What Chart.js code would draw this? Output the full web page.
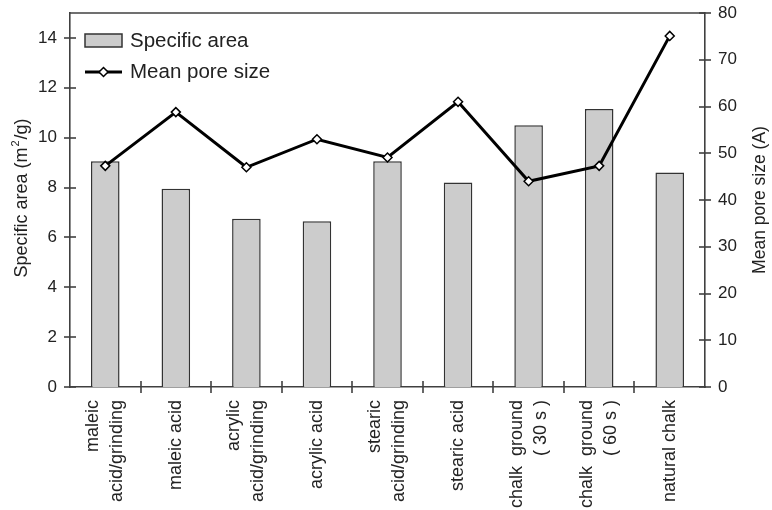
<!DOCTYPE html>
<html>
<head>
<meta charset="utf-8">
<script src="https://cdn.jsdelivr.net/npm/chart.js@4/dist/chart.umd.min.js"></script>
<style>
  html, body { margin: 0; padding: 0; background: #fff; overflow: hidden; }
  #wrap { width: 772px; height: 510px; position: relative; }
</style>
</head>
<body>
<div id="wrap"><canvas id="chart" width="772" height="510"></canvas></div>
<script>
// Sample names (each entry is the list of label lines)
const categories = [
  ["maleic", "acid/grinding"],
  ["maleic acid"],
  ["acrylic", "acid/grinding"],
  ["acrylic acid"],
  ["stearic", "acid/grinding"],
  ["stearic acid"],
  ["chalk  ground", "( 30 s )"],
  ["chalk  ground", "( 60 s )"],
  ["natural chalk"]
];

// Specific surface area, m²/g
const specificArea = [9.05, 7.95, 6.75, 6.65, 9.05, 8.2, 10.5, 11.15, 8.6];

// Mean pore size, Å
const meanPoreSize = [47.3, 58.8, 47.0, 53.0, 49.1, 61.0, 44.0, 47.3, 75.1];

// Axis tick values
const areaTicks = [0, 2, 4, 6, 8, 10, 12, 14];
const poreTicks = [0, 10, 20, 30, 40, 50, 60, 70, 80];

const FONT = "'Liberation Sans', Arial, Helvetica, sans-serif";
const AXIS_COLOR = '#404040';
const TEXT_COLOR = '#222';

// Tick marks that cross the axes, frame top line, axis titles, legend and category labels
const decorations = {
  id: 'decorations',
  afterDraw(chart) {
    const ctx = chart.ctx;
    const area = chart.chartArea;
    const x = chart.scales.x;
    const yL = chart.scales.y;
    const yR = chart.scales.y2;

    ctx.save();
    ctx.strokeStyle = AXIS_COLOR;
    ctx.lineWidth = 1.6;

    // top frame line
    ctx.beginPath();
    ctx.moveTo(area.left, area.top);
    ctx.lineTo(area.right, area.top);
    ctx.stroke();

    // left axis ticks
    yL.ticks.forEach(t => {
      const py = Math.round(yL.getPixelForValue(t.value));
      ctx.beginPath();
      ctx.moveTo(area.left - 6, py);
      ctx.lineTo(area.left + 6, py);
      ctx.stroke();
    });
    // right axis ticks
    yR.ticks.forEach(t => {
      const py = Math.round(yR.getPixelForValue(t.value));
      ctx.beginPath();
      ctx.moveTo(area.right - 6, py);
      ctx.lineTo(area.right + 6, py);
      ctx.stroke();
    });
    // category boundary ticks
    for (let i = 1; i < categories.length; i++) {
      const px = Math.round(x.getPixelForValue(i - 0.5));
      ctx.beginPath();
      ctx.moveTo(px, area.bottom - 6);
      ctx.lineTo(px, area.bottom + 6);
      ctx.stroke();
    }

    // category labels, rotated, reading upward
    ctx.fillStyle = TEXT_COLOR;
    ctx.font = '18px ' + FONT;
    ctx.textAlign = 'right';
    ctx.textBaseline = 'middle';
    const lineGap = 24;
    categories.forEach((lines, i) => {
      const cx = x.getPixelForTick(i);
      lines.forEach((line, j) => {
        const off = (j - (lines.length - 1) / 2) * lineGap;
        ctx.save();
        ctx.translate(cx + off, area.bottom + 13);
        ctx.rotate(-Math.PI / 2);
        ctx.fillText(line, 0, 0);
        ctx.restore();
      });
    });

    // axis titles
    const midY = (area.top + area.bottom) / 2;

    // left title with a raised "2" in the unit
    const mainFont = '18px ' + FONT;
    const supFont = '11px ' + FONT;
    const partA = 'Specific area (m';
    const partSup = '2';
    const partB = '/g)';
    ctx.font = mainFont;
    const wA = ctx.measureText(partA).width;
    const wB = ctx.measureText(partB).width;
    ctx.font = supFont;
    const wS = ctx.measureText(partSup).width + 2;
    const total = wA + wS + wB;
    ctx.save();
    ctx.translate(22, midY - 2);
    ctx.rotate(-Math.PI / 2);
    ctx.textAlign = 'left';
    ctx.textBaseline = 'middle';
    let tx = -total / 2;
    ctx.font = mainFont;
    ctx.fillText(partA, tx, 0);
    tx += wA + 1;
    ctx.font = supFont;
    ctx.fillText(partSup, tx, -6);
    tx += wS - 1;
    ctx.font = mainFont;
    ctx.fillText(partB, tx, 0);
    ctx.restore();

    ctx.textAlign = 'center';
    ctx.font = '17.5px ' + FONT;
    ctx.save();
    ctx.translate(760, midY);
    ctx.rotate(-Math.PI / 2);
    ctx.fillText('Mean pore size (A)', 0, 0);
    ctx.restore();

    // legend inside the plot
    const barDs = chart.data.datasets[0];
    const lineDs = chart.data.datasets[1];
    const lx = area.left + 15;
    ctx.fillStyle = barDs.backgroundColor;
    ctx.strokeStyle = barDs.borderColor;
    ctx.lineWidth = 1.5;
    ctx.fillRect(lx, 34, 37, 13);
    ctx.strokeRect(lx, 34, 37, 13);

    ctx.strokeStyle = lineDs.borderColor;
    ctx.lineWidth = lineDs.borderWidth;
    ctx.beginPath();
    ctx.moveTo(lx, 72);
    ctx.lineTo(lx + 37, 72);
    ctx.stroke();
    const r = lineDs.pointRadius;
    const dcx = lx + 18.5;
    ctx.beginPath();
    ctx.moveTo(dcx, 72 - r);
    ctx.lineTo(dcx + r, 72);
    ctx.lineTo(dcx, 72 + r);
    ctx.lineTo(dcx - r, 72);
    ctx.closePath();
    ctx.fillStyle = lineDs.pointBackgroundColor;
    ctx.fill();
    ctx.lineWidth = lineDs.pointBorderWidth;
    ctx.strokeStyle = lineDs.pointBorderColor;
    ctx.stroke();

    ctx.fillStyle = TEXT_COLOR;
    ctx.font = '20.5px ' + FONT;
    ctx.textAlign = 'left';
    ctx.textBaseline = 'middle';
    ctx.fillText(barDs.label, lx + 45, 41);
    ctx.fillText(lineDs.label, lx + 45, 72);
    ctx.restore();
  }
};

// fixed-size vertical axes with no extra label padding at the ends
function fixVertical(width) {
  return function (scale) {
    scale.width = width;
    scale.paddingTop = 0;
    scale.paddingBottom = 0;
  };
}

new Chart(document.getElementById('chart'), {
  type: 'bar',
  data: {
    labels: categories.map(c => c.join(' ')),
    datasets: [
      {
        type: 'bar',
        label: 'Specific area',
        data: specificArea,
        yAxisID: 'y',
        backgroundColor: '#cccccc',
        borderColor: '#333333',
        borderWidth: 1.5,
        barPercentage: 0.405,
        categoryPercentage: 1.0,
        order: 2
      },
      {
        type: 'line',
        label: 'Mean pore size',
        data: meanPoreSize,
        yAxisID: 'y2',
        borderColor: '#000000',
        borderWidth: 3,
        tension: 0,
        fill: false,
        pointStyle: 'rectRot',
        pointRadius: 4.5,
        pointBackgroundColor: '#ffffff',
        pointBorderColor: '#000000',
        pointBorderWidth: 1.5,
        order: 1
      }
    ]
  },
  options: {
    responsive: false,
    animation: false,
    devicePixelRatio: 1,
    layout: { padding: { top: 13, left: 0, right: 0, bottom: 0 } },
    plugins: {
      legend: { display: false },
      tooltip: { enabled: false }
    },
    scales: {
      x: {
        type: 'category',
        offset: true,
        grid: { display: false, drawTicks: false },
        border: { display: true, color: AXIS_COLOR, width: 1.6 },
        ticks: { display: false },
        afterFit(scale) {
          scale.height = 123;
          scale.paddingLeft = 0;
          scale.paddingRight = 0;
        }
      },
      y: {
        position: 'left',
        min: 0,
        max: 15,
        grid: { display: false, drawTicks: false },
        border: { display: true, color: AXIS_COLOR, width: 1.6 },
        ticks: {
          color: TEXT_COLOR,
          font: { family: FONT, size: 17 },
          padding: 13
        },
        afterBuildTicks(scale) { scale.ticks = areaTicks.map(v => ({ value: v })); },
        afterFit: fixVertical(70)
      },
      y2: {
        position: 'right',
        min: 0,
        max: 80,
        grid: { display: false, drawTicks: false },
        border: { display: true, color: AXIS_COLOR, width: 1.6 },
        ticks: {
          color: TEXT_COLOR,
          font: { family: FONT, size: 17 },
          padding: 13
        },
        afterBuildTicks(scale) { scale.ticks = poreTicks.map(v => ({ value: v })); },
        afterFit: fixVertical(67)
      }
    }
  },
  plugins: [decorations]
});
</script>
</body>
</html>
